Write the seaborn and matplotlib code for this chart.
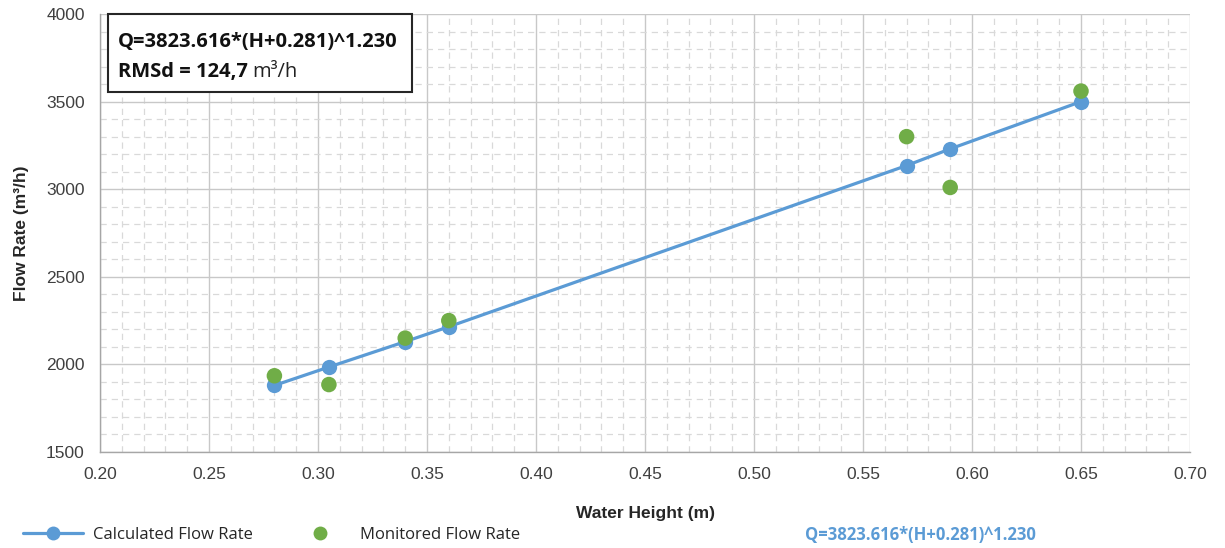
import matplotlib
matplotlib.use("Agg")
import matplotlib.pyplot as plt
from matplotlib.lines import Line2D
from matplotlib.ticker import MultipleLocator
import seaborn as sns
import pandas as pd

# Water heights (m) and flow rates (m³/h)
water_height = [0.28, 0.305, 0.34, 0.36, 0.57, 0.59, 0.65]
calculated_flow = [1880, 1985, 2130, 2215, 3135, 3230, 3500]
monitored_flow = [1935, 1885, 2150, 2250, 3300, 3010, 3560]

equation_text = "Q=3823.616*(H+0.281)^1.230"
rmsd_text = "RMSd = 124,7"
unit_text = "m³/h"

blue = "#5B9BD5"
green = "#70AD47"

sns.set_style("white")
plt.rcParams["font.family"] = ["Liberation Sans", "DejaVu Sans"]

df = pd.DataFrame({"H": water_height, "calc": calculated_flow, "mon": monitored_flow})

fig = plt.figure(figsize=(12.25, 5.48), dpi=100)
ax = fig.add_axes([100 / 1225, 1 - 452 / 548, 1090 / 1225, 438 / 548])

sns.lineplot(data=df, x="H", y="calc", ax=ax, color=blue, linewidth=2.3,
             marker="o", markersize=11, markeredgewidth=0, zorder=3)
sns.scatterplot(data=df, x="H", y="mon", ax=ax, color=green, s=125,
                edgecolor="none", linewidth=0, zorder=4)

ax.set_xlim(0.20, 0.70)
ax.set_ylim(1500, 4000)
ax.xaxis.set_major_locator(MultipleLocator(0.05))
ax.xaxis.set_minor_locator(MultipleLocator(0.01))
ax.yaxis.set_major_locator(MultipleLocator(500))
ax.yaxis.set_minor_locator(MultipleLocator(100))
ax.set_xticks([0.20 + 0.05 * i for i in range(11)])
ax.set_xticklabels([f"{0.20 + 0.05 * i:.2f}" for i in range(11)])

ax.grid(which="major", color="#C8C8C8", linewidth=1.0, linestyle="-", zorder=0)
ax.grid(which="minor", color="#D9D9D9", linewidth=0.9, linestyle=(0, (5, 4)), zorder=0)
ax.set_axisbelow(True)

for side in ("top", "right"):
    ax.spines[side].set_visible(False)
for side in ("left", "bottom"):
    ax.spines[side].set_color("#A6A6A6")
    ax.spines[side].set_linewidth(1.0)

ax.tick_params(axis="both", which="major", labelsize=12.5, colors="#A6A6A6",
               length=5, width=1, direction="out", pad=6)
ax.tick_params(axis="both", which="minor", length=0)
for lbl in ax.get_xticklabels() + ax.get_yticklabels():
    lbl.set_color("#404040")

ax.set_xlabel("Water Height (m)", fontsize=12.5, fontweight="bold", labelpad=17)
ax.set_ylabel("Flow Rate (m³/h)", fontsize=12.5, fontweight="bold", labelpad=12)

# Equation / error box in the upper left corner
box_x, box_y = 108 / 1225, 1 - 92 / 548
fig.patches.append(plt.Rectangle((box_x, box_y), 304 / 1225, 78 / 548,
                                 transform=fig.transFigure, facecolor="white",
                                 edgecolor="#262626", linewidth=1.5, zorder=5))
fig.text(118 / 1225, 1 - 42 / 548, equation_text, fontsize=14.5, fontweight="bold",
         family="Open Sans", va="center", ha="left", color="#111111", zorder=6)
fig.text(118 / 1225, 1 - 72 / 548, rmsd_text, fontsize=14.5, fontweight="bold",
         family="Open Sans", va="center", ha="left", color="#111111", zorder=6)
fig.text(252 / 1225, 1 - 72 / 548, unit_text, fontsize=14.5,
         family="Open Sans", va="center", ha="left", color="#222222", zorder=6)

# Legend along the bottom
handles = [
    Line2D([0], [0], color=blue, linewidth=2.3, marker="o", markersize=10,
           markeredgewidth=0),
    Line2D([0], [0], color="none", marker="o", markerfacecolor=green,
           markeredgewidth=0, markersize=10),
]
fig.legend(handles, ["Calculated Flow Rate", "Monitored Flow Rate"],
           loc="center left", bbox_to_anchor=(8 / 1225, 1 - 535 / 548),
           ncol=2, frameon=False, handlelength=3.6,
           columnspacing=2.2, handletextpad=0.6,
           prop={"family": "Open Sans", "size": 12})
fig.text(805 / 1225, 1 - 535 / 548, equation_text, fontsize=12, fontweight="bold",
         family="Open Sans", color=blue, va="center", ha="left")

fig.savefig("out.png", dpi=100)
